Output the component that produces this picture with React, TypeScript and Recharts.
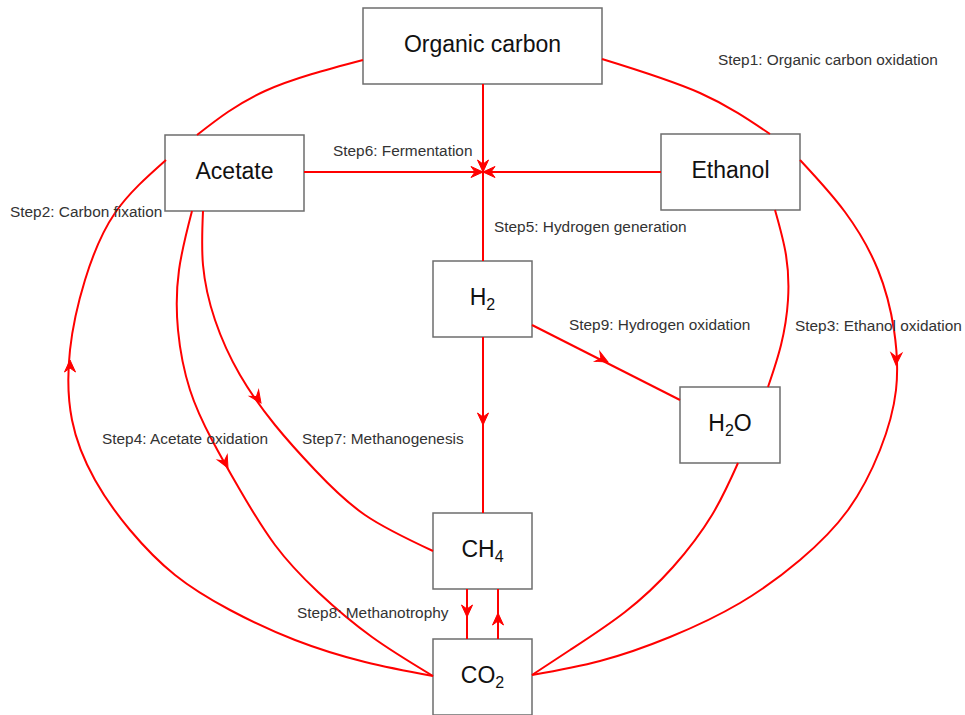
import React from 'react';
import { ComposedChart, Line, Scatter, XAxis, YAxis, ReferenceArea } from 'recharts';

// Nodes (diagram coordinates: x to the right, y downward)
const boxes = [
  { id: 'org', main: 'Organic carbon', sub: '', tail: '', x1: 363, x2: 602, y1: 8, y2: 84 },
  { id: 'ace', main: 'Acetate', sub: '', tail: '', x1: 165, x2: 304, y1: 135, y2: 211 },
  { id: 'eth', main: 'Ethanol', sub: '', tail: '', x1: 661, x2: 800, y1: 134, y2: 210 },
  { id: 'h2', main: 'H', sub: '2', tail: '', x1: 433, x2: 532, y1: 261, y2: 337 },
  { id: 'h2o', main: 'H', sub: '2', tail: 'O', x1: 680, x2: 780, y1: 387, y2: 463 },
  { id: 'ch4', main: 'CH', sub: '4', tail: '', x1: 433, x2: 532, y1: 513, y2: 589 },
  { id: 'co2', main: 'CO', sub: '2', tail: '', x1: 433, x2: 532, y1: 639, y2: 715 },
];

// Edges
const step1Left = [{ x: 363, y: 60 }, { x: 265, y: 91 }, { x: 197, y: 135 }];
const step1Right = [{ x: 602, y: 59 }, { x: 700, y: 93 }, { x: 770, y: 134 }];
const step2Outer = [
  { x: 166, y: 160 }, { x: 115, y: 213 }, { x: 85, y: 280 }, { x: 70, y: 350 }, { x: 72, y: 420 },
  { x: 95, y: 480 }, { x: 130, y: 530 }, { x: 175, y: 575 }, { x: 230, y: 610 }, { x: 295, y: 640 },
  { x: 365, y: 662 }, { x: 433, y: 676 },
];
const step4Acetate = [
  { x: 192, y: 211 }, { x: 179, y: 270 }, { x: 178, y: 330 }, { x: 190, y: 390 }, { x: 212, y: 440 },
  { x: 240, y: 490 }, { x: 275, y: 545 }, { x: 318, y: 592 }, { x: 372, y: 637 }, { x: 433, y: 676 },
];
const step7Methano = [
  { x: 203, y: 211 }, { x: 203, y: 265 }, { x: 215, y: 320 }, { x: 240, y: 375 }, { x: 275, y: 425 },
  { x: 315, y: 470 }, { x: 365, y: 515 }, { x: 433, y: 551 },
];
const step3Outer = [
  { x: 800, y: 160 }, { x: 845, y: 212 }, { x: 878, y: 270 }, { x: 894, y: 330 }, { x: 896, y: 390 },
  { x: 880, y: 450 }, { x: 848, y: 510 }, { x: 800, y: 560 }, { x: 740, y: 603 }, { x: 670, y: 637 },
  { x: 600, y: 661 }, { x: 532, y: 675 },
];
const ethToH2o = [{ x: 775, y: 210 }, { x: 786, y: 255 }, { x: 788, y: 300 }, { x: 781, y: 345 }, { x: 768, y: 387 }];
const h2oToCo2 = [
  { x: 738, y: 463 }, { x: 712, y: 515 }, { x: 673, y: 567 }, { x: 625, y: 612 }, { x: 570, y: 650 }, { x: 532, y: 675 },
];
const fermentH = [{ x: 304, y: 172 }, { x: 661, y: 172 }];
const fermentV = [{ x: 483, y: 84 }, { x: 483, y: 261 }];
const h2ToCh4 = [{ x: 483, y: 337 }, { x: 483, y: 513 }];
const h2ToH2o = [{ x: 532, y: 325 }, { x: 680, y: 400 }];
const ch4ToCo2 = [{ x: 467, y: 589 }, { x: 467, y: 639 }];
const co2ToCh4 = [{ x: 498, y: 639 }, { x: 498, y: 589 }];

const curvedEdges = [step1Left, step1Right, step2Outer, step4Acetate, step7Methano, step3Outer, ethToH2o, h2oToCo2];
const straightEdges = [fermentH, fermentV, h2ToCh4, h2ToH2o, ch4ToCo2, co2ToCh4];

// Arrow heads: tip position and direction (degrees, 0 = right, 90 = down)
const arrows = [
  { x: 483, y: 172, angle: 0 },
  { x: 483, y: 172, angle: 180 },
  { x: 483, y: 172, angle: 90 },
  { x: 483, y: 425, angle: 90 },
  { x: 608, y: 362, angle: 27 },
  { x: 70, y: 360, angle: -90 },
  { x: 228, y: 468, angle: 62 },
  { x: 261, y: 403, angle: 55 },
  { x: 896, y: 365, angle: 92 },
  { x: 467, y: 617, angle: 90 },
  { x: 498, y: 613, angle: -90 },
];

// Step labels (left edge x, centre y)
const stepLabels = [
  { x: 718, y: 59, text: 'Step1: Organic carbon oxidation' },
  { x: 333, y: 150, text: 'Step6: Fermentation' },
  { x: 10, y: 211, text: 'Step2: Carbon fixation' },
  { x: 494, y: 226, text: 'Step5: Hydrogen generation' },
  { x: 569, y: 324, text: 'Step9: Hydrogen oxidation' },
  { x: 795, y: 325, text: 'Step3: Ethanol oxidation' },
  { x: 102, y: 438, text: 'Step4: Acetate oxidation' },
  { x: 302, y: 438, text: 'Step7: Methanogenesis' },
  { x: 297, y: 612, text: 'Step8: Methanotrophy' },
];

const boxCenters = boxes.map((b) => ({ x: (b.x1 + b.x2) / 2, y: (b.y1 + b.y2) / 2, main: b.main, sub: b.sub, tail: b.tail }));

const FONT = '"Liberation Sans", Arial, Helvetica, sans-serif';
const RED = '#ff0000';

const ArrowHead = (props: any) => {
  const { cx, cy, payload } = props;
  if (cx == null || cy == null) return null;
  return (
    <path
      transform={`translate(${cx},${cy}) rotate(${payload.angle})`}
      d="M0,0 L-12,-5.5 L-8,0 L-12,5.5 Z"
      fill={RED}
      stroke={RED}
      strokeWidth={1}
    />
  );
};

const StepText = (props: any) => {
  const { cx, cy, payload } = props;
  return (
    <text x={cx} y={cy} dominantBaseline="central" fontFamily={FONT} fontSize={15.4} fill="#333">
      {payload.text}
    </text>
  );
};

const BoxText = (props: any) => {
  const { cx, cy, payload } = props;
  return (
    <text x={cx} y={cy - 2} dominantBaseline="central" textAnchor="middle" fontFamily={FONT} fontSize={23} fill="#111">
      <tspan>{payload.main}</tspan>
      {payload.sub ? (
        <tspan fontSize={16} dy={7}>{payload.sub}</tspan>
      ) : null}
      {payload.tail ? (
        <tspan fontSize={23} dy={-7}>{payload.tail}</tspan>
      ) : null}
    </text>
  );
};

export default function App() {
  return (
    <div style={{ position: 'absolute', left: 0, top: 0, background: '#fff' }}>
      <ComposedChart width={965} height={715} margin={{ top: 0, right: 0, bottom: 0, left: 0 }}>
        <XAxis type="number" dataKey="x" domain={[0, 965]} hide allowDataOverflow />
        <YAxis type="number" dataKey="y" domain={[0, 715]} reversed hide allowDataOverflow />
        {curvedEdges.map((d, i) => (
          <Line
            key={`c${i}`}
            data={d}
            dataKey="y"
            type="natural"
            stroke={RED}
            strokeWidth={2}
            dot={false}
            activeDot={false}
            isAnimationActive={false}
          />
        ))}
        {straightEdges.map((d, i) => (
          <Line
            key={`s${i}`}
            data={d}
            dataKey="y"
            type="linear"
            stroke={RED}
            strokeWidth={2}
            dot={false}
            activeDot={false}
            isAnimationActive={false}
          />
        ))}
        {boxes.map((b) => (
          <ReferenceArea
            key={b.id}
            x1={b.x1}
            x2={b.x2}
            y1={b.y1}
            y2={b.y2}
            fill="#fff"
            fillOpacity={1}
            stroke="#6e6e6e"
            strokeWidth={1.5}
            ifOverflow="visible"
          />
        ))}
        <Scatter data={arrows} shape={<ArrowHead />} isAnimationActive={false} />
        <Scatter data={boxCenters} shape={<BoxText />} isAnimationActive={false} />
        <Scatter data={stepLabels} shape={<StepText />} isAnimationActive={false} />
      </ComposedChart>
    </div>
  );
}
